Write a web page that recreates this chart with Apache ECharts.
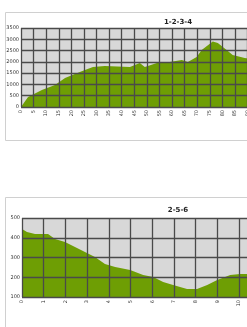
<!DOCTYPE html>
<html><head><meta charset="utf-8">
<script src="https://cdn.jsdelivr.net/npm/echarts@6/dist/echarts.min.js"></script>
<style>html,body{margin:0;padding:0;background:#fff;overflow:hidden;width:247px;height:327px}
#c{position:absolute;left:0;top:0;width:350px;height:340px}</style>
</head><body><div id="c"></div>
<script>
// Chart 1 "1-2-3-4": distance (km) vs elevation
const title1 = "1-2-3-4";
const dist1 = [0, 2.8, 8.3, 13.5, 17.5, 21.4, 25.4, 28.6, 33.3, 43.3, 47.2, 49.2, 54, 59.1, 63.9, 66.3, 69.8, 71.8, 76.2, 78.2, 81.7, 84.1, 88.9, 93, 99, 105, 112, 120];
const elev1 = [0, 443, 753, 975, 1285, 1462, 1640, 1772, 1816, 1772, 1950, 1772, 1950, 1994, 2082, 1994, 2215, 2525, 2900, 2835, 2525, 2304, 2171, 2100, 2000, 1900, 1850, 1800];
const yTicks1 = [0, 500, 1000, 1500, 2000, 2500, 3000, 3500];

// Chart 2 "2-5-6"
const title2 = "2-5-6";
const dist2 = [0, 0.23, 0.6, 1.2, 1.52, 1.98, 2.44, 2.9, 3.36, 3.82, 4.29, 4.98, 5.58, 6.04, 6.5, 6.96, 7.6, 8.06, 8.53, 8.99, 9.59, 10.05, 10.37, 11, 12, 13, 14];
const elev2 = [444, 429, 419, 419, 394, 378, 353, 328, 303, 267, 252, 237, 211, 201, 176, 161, 141, 141, 161, 186, 211, 216, 216, 230, 250, 270, 290];
const yTicks2 = [100, 200, 300, 400, 500];

const green = '#6e9e04';
const chart = echarts.init(document.getElementById('c'), null, {renderer: 'canvas'});
const lab = {fontSize: 5, color: '#333', fontFamily: 'DejaVu Sans', formatter: v => String(v)};
const gridLine = {color: '#4a4a4a', width: 1.3};
function xAx(gi, max, interval) {
  return {type: 'value', gridIndex: gi, min: 0, max: max, interval: interval, z: 3,
    axisLine: {show: false}, axisTick: {show: false},
    splitLine: {show: true, lineStyle: gridLine},
    axisLabel: Object.assign({rotate: 90, margin: 3, showMaxLabel: true}, lab)};
}
function yAx(gi, ticks) {
  return {type: 'value', gridIndex: gi, min: ticks[0], max: ticks[ticks.length - 1],
    interval: ticks[1] - ticks[0], z: 3,
    axisLine: {show: false}, axisTick: {show: false},
    splitLine: {show: true, lineStyle: gridLine},
    axisLabel: Object.assign({margin: 2}, lab)};
}
chart.setOption({
  animation: false,
  backgroundColor: '#fff',
  graphic: [
    {type: 'rect', shape: {x: 5.5, y: 12.5, width: 340, height: 128}, style: {fill: 'none', stroke: '#d0d0d0', lineWidth: 1}, z: -1},
    {type: 'rect', shape: {x: 5.5, y: 197.5, width: 340, height: 150}, style: {fill: 'none', stroke: '#d0d0d0', lineWidth: 1}, z: -1}
  ],
  title: [
    {text: title1, left: 173, top: 14, textAlign: 'center', textStyle: {fontSize: 7, fontWeight: 'bold', color: '#222', fontFamily: 'DejaVu Sans'}},
    {text: title2, left: 173, top: 202, textAlign: 'center', textStyle: {fontSize: 7, fontWeight: 'bold', color: '#222', fontFamily: 'DejaVu Sans'}}
  ],
  grid: [
    {left: 21, top: 28, width: 302, height: 79, show: true, backgroundColor: '#d8d8d8', borderWidth: 0},
    {left: 22, top: 218, width: 304, height: 79, show: true, backgroundColor: '#d8d8d8', borderWidth: 0}
  ],
  xAxis: [xAx(0, 120, 5), xAx(1, 14, 1)],
  yAxis: [yAx(0, yTicks1), yAx(1, yTicks2)],
  series: [
    {type: 'line', xAxisIndex: 0, yAxisIndex: 0, data: dist1.map((d, i) => [d, elev1[i]]),
      showSymbol: false, lineStyle: {width: 0}, areaStyle: {color: green, opacity: 1}, z: 2},
    {type: 'line', xAxisIndex: 1, yAxisIndex: 1, data: dist2.map((d, i) => [d, elev2[i]]),
      showSymbol: false, lineStyle: {width: 0}, areaStyle: {color: green, opacity: 1, origin: 'start'}, z: 2}
  ]
});
</script></body></html>
